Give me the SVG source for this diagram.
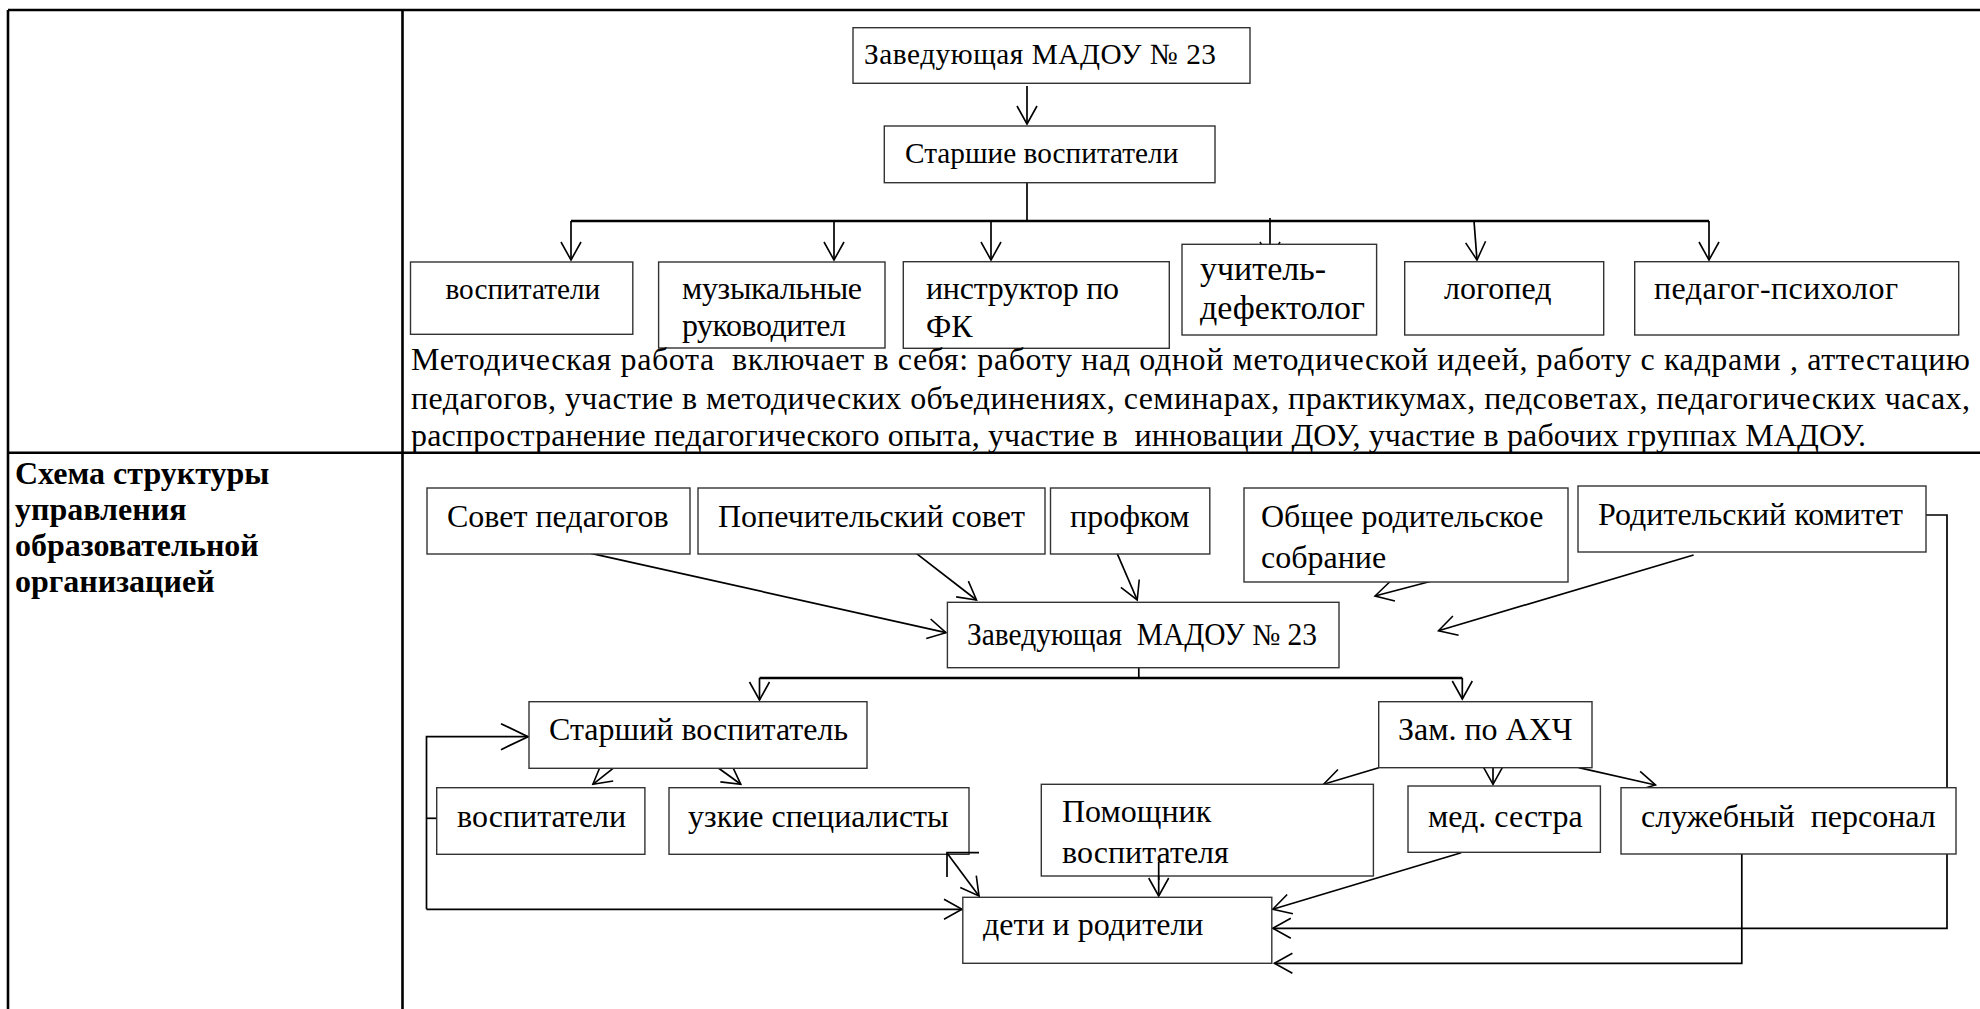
<svg xmlns="http://www.w3.org/2000/svg" width="1980" height="1009" viewBox="0 0 1980 1009">
<defs>
<style>
.t{font-family:"Liberation Serif","Times New Roman",serif;fill:#000}
.s{font-size:29.3px}
.m{font-size:32px}
.l{font-size:34px}
.b{font-size:32px}
.p{font-size:32px}
.h{font-size:32px;font-weight:bold}
.box{fill:#fff;stroke:#333;stroke-width:1.4}
.c{fill:none;stroke:#000;stroke-width:1.7}
.thick{stroke-width:2.6}
.grid{fill:none;stroke:#000;stroke-width:2.6}
</style>
<marker id="ah" markerUnits="userSpaceOnUse" markerWidth="40" markerHeight="40" viewBox="-30 -20 40 40" refX="0" refY="0" orient="auto" overflow="visible">
<path d="M-18,-10 L0,0 L-18,10" fill="none" stroke="#000" stroke-width="1.6"/>
</marker>
<marker id="ahl" markerUnits="userSpaceOnUse" markerWidth="40" markerHeight="40" viewBox="-30 -20 40 40" refX="0" refY="0" orient="auto" overflow="visible">
<path d="M-27,-13 L0,0 L-27,13" fill="none" stroke="#000" stroke-width="1.8"/>
</marker>
</defs>
<rect width="1980" height="1009" fill="#fff"/>

<g id="table">
<path class="grid" d="M8,10 H1980 M8,10 V1009 M402.5,10 V1009 M8,452.7 H1980"/>
</g>

<g id="label">
<text class="t h" x="15" y="484">Схема структуры</text>
<text class="t h" x="15" y="520">управления</text>
<text class="t h" x="15" y="556">образовательной</text>
<text class="t h" x="15" y="592">организацией</text>
</g>

<g id="connectors">
<!-- top diagram -->
<path class="c" d="M1027,86 V124" marker-end="url(#ah)"/>
<path class="c" d="M1027,183 V221"/>
<path class="c thick" d="M571,221 H1709"/>
<path class="c" d="M571,221 V260" marker-end="url(#ah)"/>
<path class="c" d="M834,221 V260" marker-end="url(#ah)"/>
<path class="c" d="M991,221 V260" marker-end="url(#ah)"/>
<path class="c" d="M1270,218 V260" marker-end="url(#ah)"/>
<path class="c" d="M1474,221 L1477,260" marker-end="url(#ah)"/>
<path class="c" d="M1709,221 V260" marker-end="url(#ah)"/>
<!-- bottom diagram -->
<path class="c" d="M591,553.3 L946,632.7" marker-end="url(#ah)"/>
<path class="c" d="M915.3,552.7 L976.5,600" marker-end="url(#ah)"/>
<path class="c" d="M1116.8,552.7 L1137.2,600" marker-end="url(#ah)"/>
<path class="c" d="M1435.8,580 L1375,596" marker-end="url(#ah)"/>
<path class="c" d="M1693.6,555 L1438.5,630.7" marker-end="url(#ah)"/>
<path class="c" d="M1138.8,667.7 V678"/>
<path class="c thick" d="M759.5,678 H1462.3"/>
<path class="c" d="M759.5,678 V700" marker-end="url(#ah)"/>
<path class="c" d="M1462.3,678 V699" marker-end="url(#ah)"/>
<path class="c" d="M436.7,818.3 H426.5"/>
<path class="c" d="M426.5,909.3 V736.7 H528" marker-end="url(#ahl)"/>
<path class="c" d="M426.5,909.3 H962" marker-end="url(#ah)"/>
<path class="c" d="M614.3,767.3 L592.9,784.3" marker-end="url(#ah)"/>
<path class="c" d="M717.3,767.3 L740.8,784.3" marker-end="url(#ah)"/>
<path class="c" d="M1158.7,861.7 V896" marker-end="url(#ah)"/>
<path class="c" d="M1378.7,767.7 L1323.6,784.3" marker-end="url(#ah)"/>
<path class="c" d="M1493,767.7 V784.3" marker-end="url(#ah)"/>
<path class="c" d="M1578.7,767.7 L1655.5,785" marker-end="url(#ah)"/>
<path class="c" d="M1461.2,852.7 L1272.8,909.3" marker-end="url(#ah)"/>
<path class="c" d="M1741.8,852.7 V963.3 H1274.4" marker-end="url(#ah)"/>
<path class="c" d="M1926,515 H1947 V928.3 H1272.8" marker-end="url(#ah)"/>
</g>

<g id="n-zav1"><rect class="box" x="853" y="27.7" width="397" height="55.6"/><text class="t s" x="864" y="64" textLength="352">Заведующая МАДОУ № 23</text></g>
<g id="n-starshie"><rect class="box" x="884.3" y="126" width="330.7" height="56.7"/><text class="t s" x="905" y="162.7">Старшие воспитатели</text></g>
<g id="n-vosp1"><rect class="box" x="410.5" y="262" width="222.3" height="72.3"/><text class="t s" x="445.4" y="299">воспитатели</text></g>
<g id="n-muz"><rect class="box" x="658.6" y="262" width="226.4" height="86"/><text class="t m" x="682" y="299" textLength="180">музыкальные</text><text class="t m" x="682" y="336" textLength="164">руководител</text></g>
<g id="n-fk"><rect class="box" x="903.3" y="261.7" width="266" height="86.6"/><text class="t m" x="926" y="299" textLength="193">инструктор по</text><text class="t m" x="926" y="337">ФК</text></g>
<g id="n-defekt"><rect class="box" x="1182" y="244.3" width="194.6" height="90.7"/><text class="t l" x="1200" y="280">учитель-</text><text class="t l" x="1200" y="319">дефектолог</text></g>
<g id="n-logoped"><rect class="box" x="1404.7" y="261.7" width="199" height="73.3"/><text class="t m" x="1444" y="299">логопед</text></g>
<g id="n-psych"><rect class="box" x="1634.7" y="261.7" width="324" height="73.3"/><text class="t m" x="1654" y="299" textLength="244">педагог-психолог</text></g>

<g id="paragraph">
<text class="t p" x="411" y="370" textLength="1559" xml:space="preserve">Методическая работа  включает в себя: работу над одной методической идеей, работу с кадрами , аттестацию</text>
<text class="t p" x="411" y="408.5" textLength="1559">педагогов, участие в методических объединениях, семинарах, практикумах, педсоветах, педагогических часах,</text>
<text class="t p" x="411" y="446" textLength="1455" xml:space="preserve">распространение педагогического опыта, участие в  инновации ДОУ, участие в рабочих группах МАДОУ.</text>
</g>

<g id="n-sovet"><rect class="box" x="427" y="488" width="263" height="66"/><text class="t b" x="447" y="527">Совет педагогов</text></g>
<g id="n-popech"><rect class="box" x="698" y="488" width="347" height="66"/><text class="t b" x="718" y="527">Попечительский совет</text></g>
<g id="n-profkom"><rect class="box" x="1050.5" y="488" width="159.3" height="66"/><text class="t b" x="1070" y="527">профком</text></g>
<g id="n-obshee"><rect class="box" x="1244" y="488" width="324" height="94"/><text class="t b" x="1261" y="527">Общее родительское</text><text class="t b" x="1261" y="568">собрание</text></g>
<g id="n-rodkom"><rect class="box" x="1578" y="486" width="348" height="66"/><text class="t b" x="1598" y="525">Родительский комитет</text></g>
<g id="n-zav2"><rect class="box" x="947.4" y="602.3" width="391.6" height="65.4"/><text class="t" style="font-size:30.5px" x="967" y="645" textLength="350" lengthAdjust="spacingAndGlyphs" xml:space="preserve">Заведующая  МАДОУ № 23</text></g>
<g id="n-starshiy"><rect class="box" x="529" y="701.7" width="338" height="66.6"/><text class="t b" x="549" y="740">Старший воспитатель</text></g>
<g id="n-zam"><rect class="box" x="1378.7" y="701.7" width="213.3" height="66"/><text class="t b" x="1398" y="740">Зам. по АХЧ</text></g>
<g id="n-vosp2"><rect class="box" x="436.7" y="787.7" width="208.2" height="66.6"/><text class="t b" x="457" y="827">воспитатели</text></g>
<g id="n-uzkie"><rect class="box" x="669" y="787.7" width="300" height="66.6"/><text class="t b" x="688" y="827">узкие специалисты</text></g>
<g id="n-pomosh"><rect class="box" x="1041.3" y="784.3" width="332.1" height="91.7"/><text class="t b" x="1062" y="822">Помощник</text><text class="t b" x="1062" y="863">воспитателя</text></g>
<g id="n-med"><rect class="box" x="1408" y="786" width="192.4" height="66.3"/><text class="t b" x="1428" y="827">мед. сестра</text></g>
<g id="n-sluzh"><rect class="box" x="1621" y="787.7" width="335" height="66.3"/><text class="t b" x="1641" y="827" xml:space="preserve">служебный  персонал</text></g>
<g id="n-deti"><rect class="box" x="962.8" y="897.3" width="309" height="66"/><text class="t b" x="983" y="935">дети и родители</text></g>

<g id="connectors-over">
<path class="c" d="M1158.7,861.7 V880"/>
<path class="c" d="M947,853 L979,896" marker-end="url(#ah)"/>
<path class="c" d="M979,852.7 H947 V877"/>
</g>
</svg>
